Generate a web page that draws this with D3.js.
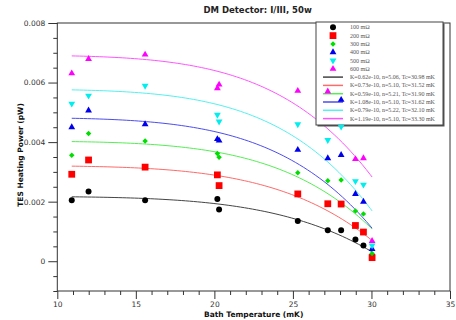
<!DOCTYPE html>
<html>
<head>
<meta charset="utf-8">
<script src="https://cdn.jsdelivr.net/npm/d3@7"></script>
<style>
  html, body { margin: 0; padding: 0; background: #fff; }
  svg { display: block; }
</style>
</head>
<body>
<svg id="chart" width="456" height="320"></svg>
<script>
// Bath temperatures (mK) at which the heating power was measured
const bathTemps = [10.92, 11.99, 15.59, 20.19, 20.30, 25.31, 27.22, 28.07, 28.07, 28.98, 29.49, 30.04];

// TES heating power (pW) for each bias resistance, aligned with bathTemps
const p100 = [0.00205, 0.00234, 0.00205, 0.00209, 0.00174, 0.00135, 0.00104, 0.00104, null, 0.00073, 0.00053, 0.00018];
const p200 = [0.00292, 0.00340, 0.00316, 0.00290, 0.00254, 0.00226, 0.00193, 0.00192, null, 0.00120, 0.00098, 0.00012];
const p300 = [0.00356, 0.00429, 0.00404, 0.00362, 0.00349, 0.00297, 0.00270, 0.00273, null, 0.00169, 0.00159, 0.00026];
const p400 = [0.00450, 0.00506, 0.00460, 0.00410, 0.00405, 0.00374, 0.00346, 0.00357, 0.00542, 0.00226, 0.00200, 0.00041];
const p500 = [0.00529, 0.00556, 0.00589, 0.00492, 0.00469, 0.00460, 0.00407, 0.00452, null, 0.00269, 0.00257, 0.00053];
const p600 = [0.00631, 0.00679, 0.00694, 0.00581, 0.00593, 0.00572, 0.00570, null, null, 0.00343, 0.00346, 0.00068];

const seriesNames = ["100 mΩ", "200 mΩ", "300 mΩ", "400 mΩ", "500 mΩ", "600 mΩ"];

// Power-law fits P = K (Tc^n - T^n)
const fitK  = [0.62e-10, 0.73e-10, 0.59e-10, 1.08e-10, 0.79e-10, 1.19e-10];
const fitN  = [5.06, 5.10, 5.21, 5.10, 5.22, 5.10];
const fitTc = [30.98, 31.52, 31.90, 31.62, 32.10, 33.30];
const fitLabels = [
  "K=0.62e-10,  n=5.06,  Tc=30.98  mK",
  "K=0.73e-10,  n=5.10,  Tc=31.52  mK",
  "K=0.59e-10,  n=5.21,  Tc=31.90  mK",
  "K=1.08e-10,  n=5.10,  Tc=31.62  mK",
  "K=0.79e-10,  n=5.22,  Tc=32.10  mK",
  "K=1.19e-10,  n=5.10,  Tc=33.30  mK"
];

const xTicks = [10, 15, 20, 25, 30, 35];
const yTicks = [0, 0.002, 0.004, 0.006, 0.008];

const seriesValues = [p100, p200, p300, p400, p500, p600];
const markerColors = ["#000000", "#ff0000", "#00dd00", "#0000ee", "#00eeee", "#ff00ff"];
const lineColors   = ["#444444", "#ff6a6a", "#55ee55", "#4d4df0", "#55f0f0", "#ff55ff"];
const markerShapes = ["circle", "square", "diamond", "up", "down", "up"];

const svg = d3.select("#chart");
const L = 57.3, R = 450, T = 23, B = 291;

const x = d3.scaleLinear().domain([10, 35]).range([L, R]);
const y = d3.scaleLinear().domain([-0.001, 0.008]).range([B, T]);

const axisColor = "#333";
const tickFont = "DejaVu Sans, Verdana, sans-serif";

function markerPath(shape) {
  switch (shape) {
    case "circle":  return d3.symbol().type(d3.symbolCircle).size(28)();
    case "square":  return d3.symbol().type(d3.symbolSquare).size(46)();
    case "diamond": return d3.symbol().type(d3.symbolSquare).size(15)();
    default:        return d3.symbol().type(d3.symbolTriangle).size(20)();
  }
}
function markerRotation(shape) {
  if (shape === "diamond") return 45;
  if (shape === "down") return 180;
  return 0;
}

// Frame
svg.append("rect")
  .attr("x", L).attr("y", T).attr("width", R - L).attr("height", B - T)
  .attr("fill", "none").attr("stroke", axisColor).attr("stroke-width", 1);

// Y axis: labelled majors every 0.002, minors every 0.0005
const yAxis = d3.axisLeft(y).tickValues(yTicks)
  .tickFormat(d => d === 0 ? "0" : d3.format(".3f")(d))
  .tickSize(9).tickPadding(3);
const gy = svg.append("g").attr("transform", `translate(${L},0)`).call(yAxis);
const yMinor = d3.range(-0.001, 0.00801, 0.0005).filter(v => !yTicks.some(t => Math.abs(t - v) < 1e-9));
const gyMinor = svg.append("g").attr("transform", `translate(${L},0)`)
  .call(d3.axisLeft(y).tickValues(yMinor).tickFormat("").tickSize(4));

// X axis: labelled majors every 5, minors every 1
const xAxis = d3.axisBottom(x).tickValues(xTicks).tickSize(8).tickPadding(3);
const gx = svg.append("g").attr("transform", `translate(0,${B})`).call(xAxis);
const xMinor = d3.range(10, 35.01, 1).filter(v => !xTicks.includes(v));
const gxMinor = svg.append("g").attr("transform", `translate(0,${B})`)
  .call(d3.axisBottom(x).tickValues(xMinor).tickFormat("").tickSize(4));

[gy, gyMinor, gx, gxMinor].forEach(g => {
  g.select(".domain").remove();
  g.selectAll("line").attr("stroke", axisColor);
  g.selectAll("text").attr("fill", "#333").style("font-family", tickFont).style("font-size", "7.5px");
});

// Titles
svg.append("text")
  .attr("x", (L + R) / 2 + 4).attr("y", 13)
  .attr("text-anchor", "middle")
  .style("font-family", tickFont).style("font-size", "8.5px").style("font-weight", "bold")
  .attr("fill", "#222")
  .text("DM Detector: I/III, 50w");

svg.append("text")
  .attr("x", (L + R) / 2).attr("y", 317)
  .attr("text-anchor", "middle")
  .style("font-family", tickFont).style("font-size", "7.5px").style("font-weight", "bold")
  .attr("fill", "#111")
  .text("Bath Temperature (mK)");

svg.append("text")
  .attr("transform", `translate(23,155) rotate(-90)`)
  .attr("text-anchor", "middle")
  .style("font-family", tickFont).style("font-size", "7.5px").style("font-weight", "bold")
  .attr("fill", "#111")
  .text("TES Heating Power (pW)");

// Fit curves, evaluated across the measured temperature span
const tMin = d3.min(bathTemps), tMax = d3.max(bathTemps);
const fitTemps = d3.range(tMin, tMax, 0.25).concat([tMax]);
const line = d3.line().x(d => x(d[0])).y(d => y(d[1]));
fitK.forEach((k, i) => {
  const pts = fitTemps.map(t => [t, k * (Math.pow(fitTc[i], fitN[i]) - Math.pow(t, fitN[i]))]);
  svg.append("path")
    .attr("d", line(pts))
    .attr("fill", "none")
    .attr("stroke", lineColors[i])
    .attr("stroke-width", 1);
});

// Legend
const lgX = 316, lgY = 22, lgW = 127, lgH = 103, rowH = 8.3;
svg.append("rect")
  .attr("x", lgX + 1.5).attr("y", lgY + 1.5).attr("width", lgW).attr("height", lgH)
  .attr("fill", "#555");
svg.append("rect")
  .attr("x", lgX).attr("y", lgY).attr("width", lgW).attr("height", lgH)
  .attr("fill", "#fff").attr("stroke", "#444").attr("stroke-width", 1);

const legendFont = "Liberation Serif, Times New Roman, serif";
seriesNames.forEach((name, i) => {
  const cy = lgY + 5.3 + i * rowH;
  svg.append("path")
    .attr("d", markerPath(markerShapes[i]))
    .attr("transform", `translate(333,${cy}) rotate(${markerRotation(markerShapes[i])})`)
    .attr("fill", markerColors[i]);
  svg.append("text")
    .attr("x", 350).attr("y", cy + 2)
    .style("font-family", legendFont).style("font-size", "6px")
    .attr("fill", "#555")
    .text(name);
});
fitLabels.forEach((label, i) => {
  const cy = lgY + 5.3 + (i + 6) * rowH;
  svg.append("line")
    .attr("x1", 323).attr("x2", 343).attr("y1", cy).attr("y2", cy)
    .attr("stroke", lineColors[i]).attr("stroke-width", 1.5);
  svg.append("text")
    .attr("x", 350).attr("y", cy + 2)
    .style("font-family", legendFont).style("font-size", "6px")
    .attr("fill", "#555")
    .text(label);
});

// Measured points
seriesValues.forEach((vals, i) => {
  const pts = bathTemps.map((t, j) => [t, vals[j]]).filter(d => d[1] !== null);
  svg.append("g").selectAll("path")
    .data(pts)
    .join("path")
    .attr("d", markerPath(markerShapes[i]))
    .attr("transform", d => `translate(${x(d[0])},${y(d[1])}) rotate(${markerRotation(markerShapes[i])})`)
    .attr("fill", markerColors[i]);
});
</script>
</body>
</html>
